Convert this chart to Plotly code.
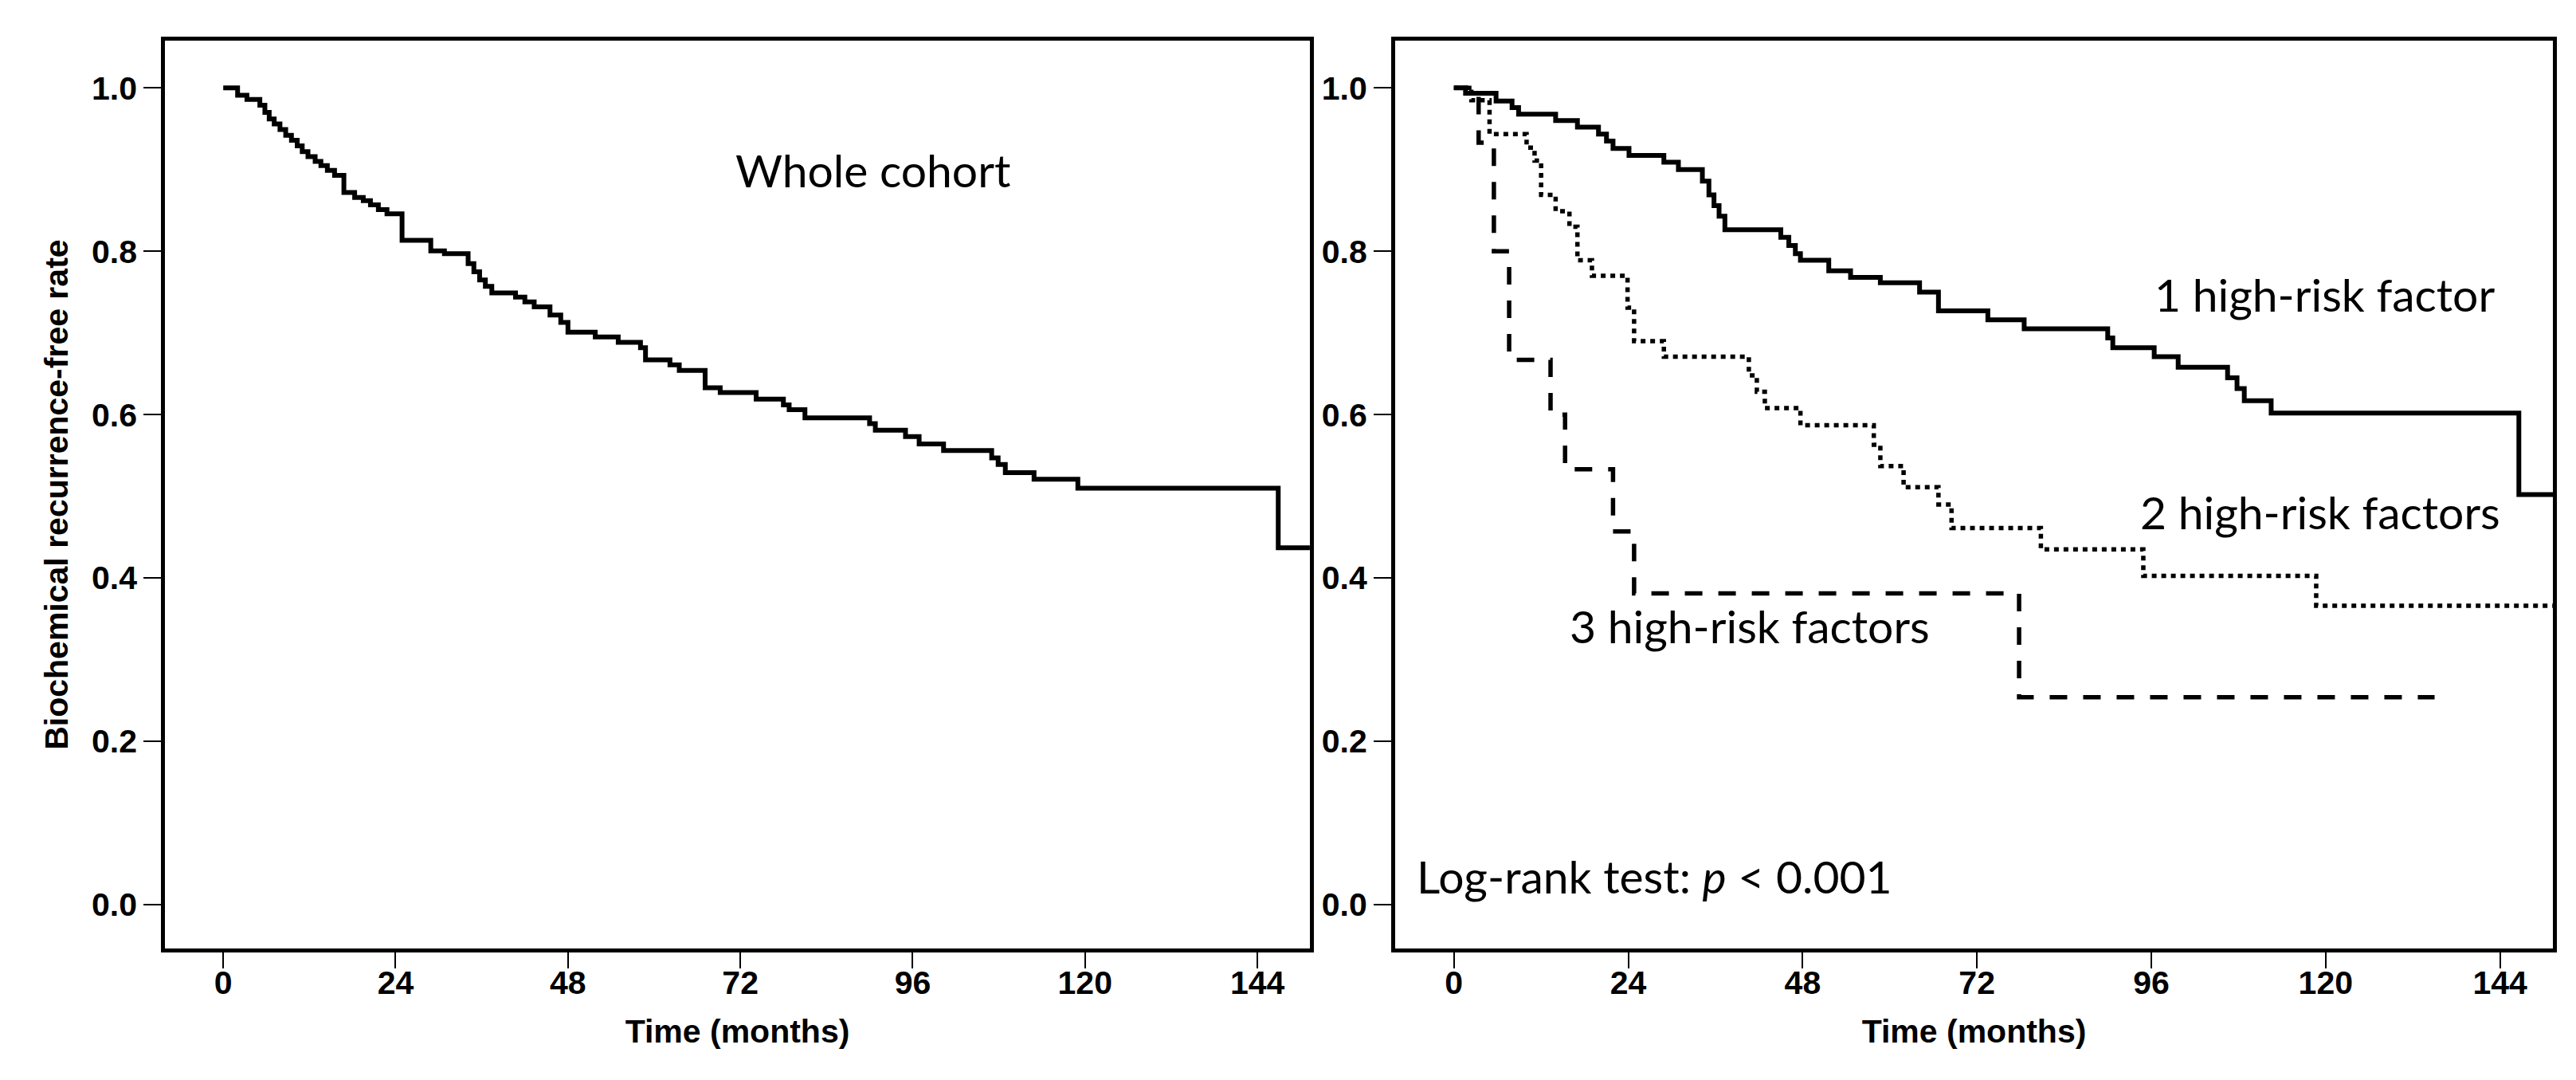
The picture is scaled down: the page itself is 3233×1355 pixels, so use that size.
import plotly.graph_objects as go

# ---- data ----
whole_t = [0, 2.0, 3.3, 5.1, 5.8, 6.4, 7.1, 7.9, 8.7, 9.5, 10.3, 11.0, 11.8, 12.8, 13.6, 14.5,
           15.5, 16.8, 18.3, 19.5, 20.5, 21.6, 22.8, 24.9, 28.9, 30.8, 34.1, 34.9, 35.7, 36.5,
           37.4, 40.7, 42.0, 43.3, 45.5, 47.0, 48.0, 51.8, 55.0, 58.1, 58.8, 62.2, 63.5, 67.1,
           69.2, 74.2, 78.0, 78.8, 81.0, 90.0, 90.8, 95.0, 96.9, 100.3, 107.0, 107.9, 108.9,
           112.9, 119.0, 146.9, 151.5]
whole_s = [1.0, 0.991, 0.986, 0.979, 0.970, 0.962, 0.956, 0.949, 0.942, 0.936, 0.929, 0.922,
           0.916, 0.910, 0.905, 0.899, 0.893, 0.872, 0.866, 0.862, 0.857, 0.851, 0.846, 0.8135,
           0.8005, 0.797, 0.785, 0.775, 0.765, 0.757, 0.749, 0.744, 0.738, 0.732, 0.722, 0.713,
           0.701, 0.695, 0.6885, 0.682, 0.667, 0.661, 0.654, 0.633, 0.627, 0.619, 0.612, 0.606,
           0.596, 0.589, 0.581, 0.573, 0.564, 0.556, 0.547, 0.539, 0.529, 0.521, 0.510, 0.437,
           0.437]

one_t = [0, 1.6, 5.8, 8.0, 8.9, 14.0, 17.0, 19.9, 21.0, 21.9, 24.1, 28.9, 30.9, 34.2, 35.1,
         35.8, 36.5, 37.3, 45.0, 46.1, 47.0, 47.7, 51.6, 54.6, 58.7, 64.1, 66.7, 73.5, 78.5,
         90.0, 90.7, 96.4, 99.7, 106.5, 107.8, 108.8, 112.5, 146.6, 151.5]
one_s = [1.0, 0.9935, 0.984, 0.976, 0.968, 0.960, 0.952, 0.9435, 0.935, 0.926, 0.9175, 0.909,
         0.900, 0.886, 0.869, 0.856, 0.843, 0.8265, 0.817, 0.807, 0.797, 0.789, 0.776, 0.768,
         0.7615, 0.750, 0.727, 0.716, 0.705, 0.694, 0.682, 0.671, 0.658, 0.645, 0.632, 0.617,
         0.602, 0.502, 0.502]

two_t = [0, 2.4, 4.9, 10.0, 11.1, 12.0, 14.0, 15.9, 17.0, 19.0, 23.9, 24.8, 28.9, 40.6, 41.7,
         42.8, 47.7, 57.8, 58.7, 61.9, 66.7, 68.5, 80.8, 94.9, 118.7, 151.5]
two_s = [1.0, 0.985, 0.9435, 0.927, 0.911, 0.869, 0.849, 0.830, 0.789, 0.770, 0.731, 0.690,
         0.671, 0.648, 0.628, 0.608, 0.587, 0.563, 0.537, 0.511, 0.490, 0.461, 0.435, 0.4025,
         0.366, 0.366]

three_t = [0, 3.4, 5.5, 7.6, 13.3, 15.3, 21.9, 24.8, 77.8, 135.0]
three_s = [1.0, 0.933, 0.800, 0.667, 0.600, 0.533, 0.457, 0.381, 0.254, 0.254]

x_ticks = [0, 24, 48, 72, 96, 120, 144]
y_ticks = [0.0, 0.2, 0.4, 0.6, 0.8, 1.0]

x_title = "Time (months)"
y_title = "Biochemical recurrence-free rate"

# ---- figure ----
fig = go.Figure()
fig.add_trace(go.Scatter(x=whole_t, y=whole_s, mode="lines", line_shape="hv",
                         line=dict(color="#000000", width=6), xaxis="x", yaxis="y"))
fig.add_trace(go.Scatter(x=one_t, y=one_s, mode="lines", line_shape="hv",
                         line=dict(color="#000000", width=6), xaxis="x2", yaxis="y2"))
fig.add_trace(go.Scatter(x=two_t, y=two_s, mode="lines", line_shape="hv",
                         line=dict(color="#000000", width=5.5, dash="6px,6px"), xaxis="x2", yaxis="y2"))
fig.add_trace(go.Scatter(x=three_t, y=three_s, mode="lines", line_shape="hv",
                         line=dict(color="#000000", width=5.5, dash="22px,20px"), xaxis="x2", yaxis="y2"))

tick_font = dict(family="Liberation Sans, Arial, sans-serif", size=41, color="#000000", weight="bold")
title_font = dict(family="Liberation Sans, Arial, sans-serif", size=41, color="#000000", weight="bold")

x_range = [-8.1, 151.3]
y_range = [-0.054, 1.058]

common_x = dict(range=x_range, tickvals=x_ticks, ticks="outside", ticklen=20, tickwidth=2,
                tickcolor="#000000", showline=True, linewidth=5, linecolor="#000000", mirror=True,
                showgrid=False, zeroline=False, tickfont=tick_font, ticklabelstandoff=-17,
                title=dict(text=x_title, font=title_font, standoff=25))
common_y = dict(range=y_range, tickvals=y_ticks, tickformat=".1f", ticks="outside", ticklen=22,
                tickwidth=2, tickcolor="#000000", showline=True, linewidth=5, linecolor="#000000",
                mirror=True, showgrid=False, zeroline=False, tickfont=tick_font)

fig.update_layout(
    width=3233, height=1355,
    margin=dict(l=0, r=0, t=0, b=0),
    paper_bgcolor="white", plot_bgcolor="white",
    showlegend=False,
    xaxis=dict(domain=[0.0616, 0.5060], anchor="y", **common_x),
    yaxis=dict(domain=[0.1275, 0.9683], anchor="x",
               title=dict(text=y_title, font=title_font, standoff=18), **common_y),
    xaxis2=dict(domain=[0.5391, 0.9886], anchor="y2", **common_x),
    yaxis2=dict(domain=[0.1275, 0.9683], anchor="x2", **common_y),
)

ann_font = dict(family="Lato, Calibri, sans-serif", size=57, color="#000000")
annotations = [
    ("x", "y", 71.1, 0.900, "Whole cohort"),
    ("x2", "y2", 96.2, 0.748, "1 high-risk factor"),
    ("x2", "y2", 94.2, 0.481, "2 high-risk factors"),
    ("x2", "y2", 15.7, 0.342, "3 high-risk factors"),
    ("x2", "y2", -5.3, 0.035, "Log-rank test: <i>p</i> < 0.001"),
]
for xr, yr, xv, yv, txt in annotations:
    fig.add_annotation(xref=xr, yref=yr, x=xv, y=yv, text=txt, showarrow=False,
                       xanchor="left", yanchor="middle", font=ann_font)

fig.write_html("out.html")
